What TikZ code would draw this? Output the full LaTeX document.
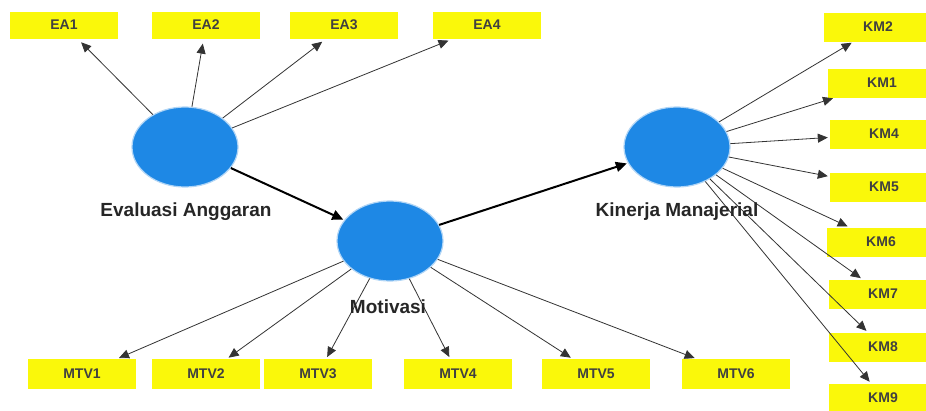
\documentclass[tikz,border=0pt]{standalone}
\usepackage{fontspec}
\setmainfont{Liberation Sans}
\usetikzlibrary{shapes.geometric,arrows.meta}
\definecolor{lvblue}{RGB}{30,136,229}
\definecolor{mvyellow}{RGB}{250,248,10}
\tikzset{
  latent/.style={ellipse, fill=lvblue, draw=lvblue!35, line width=1.2pt, minimum width=106pt, minimum height=80pt},
  latlab/.style={font=\bfseries\fontsize{19}{21}\selectfont, text=black!85},
  indbox/.style={fill=mvyellow, minimum width=108pt, minimum height=27pt, inner sep=0pt, font=\bfseries\fontsize{14}{16}\selectfont, text=black!75},
  ind/.style={-{Triangle[length=10pt,width=9pt]}, black!80, line width=0.8pt, shorten >=2pt},
  path/.style={-{Triangle[length=11pt,width=10pt]}, black, line width=2pt, shorten >=1pt}
}
\begin{document}
\begin{tikzpicture}[x=1pt,y=-1pt]
  \clip (0,0) rectangle (926,410);
  \fill[white] (0,0) rectangle (926,410);

  % latent variables
  \node[latent] (eval) at (185,147) {};
  \node[latent] (motiv) at (390,241) {};
  \node[latent] (kinerja) at (677,147) {};

  % indicators of Evaluasi Anggaran
  \node[indbox] (ea1) at (64,25) {EA1};
  \node[indbox] (ea2) at (206,25) {EA2};
  \node[indbox] (ea3) at (344,25) {EA3};
  \node[indbox] (ea4) at (487,25) {EA4};

  % indicators of Motivasi
  \node[indbox, minimum height=30pt] (mtv1) at (82,374) {MTV1};
  \node[indbox, minimum height=30pt] (mtv2) at (206,374) {MTV2};
  \node[indbox, minimum height=30pt] (mtv3) at (318,374) {MTV3};
  \node[indbox, minimum height=30pt] (mtv4) at (458,374) {MTV4};
  \node[indbox, minimum height=30pt] (mtv5) at (596,374) {MTV5};
  \node[indbox, minimum height=30pt] (mtv6) at (736,374) {MTV6};

  % indicators of Kinerja Manajerial
  \node[indbox, minimum height=29pt] (km2) at (878,27) {KM2};
  \node[indbox, minimum height=29pt] (km1) at (882,83) {KM1};
  \node[indbox, minimum height=29pt] (km4) at (884,134) {KM4};
  \node[indbox, minimum height=29pt] (km5) at (884,187) {KM5};
  \node[indbox, minimum height=29pt] (km6) at (881,242) {KM6};
  \node[indbox, minimum height=29pt] (km7) at (883,294) {KM7};
  \node[indbox, minimum height=29pt] (km8) at (883,347) {KM8};
  \node[indbox, minimum height=29pt] (km9) at (883,398) {KM9};

  % outer loadings
  \draw[ind, shorten >=5pt] (eval) -- (ea1);
  \draw[ind, shorten >=5pt] (eval) -- (ea2);
  \draw[ind, shorten >=5pt] (eval) -- (ea3);
  \draw[ind, shorten >=5pt] (eval) -- (ea4);
  \draw[ind] (motiv) -- (mtv1);
  \draw[ind] (motiv) -- (mtv2);
  \draw[ind] (motiv) -- (mtv3);
  \draw[ind] (motiv) -- (mtv4);
  \draw[ind] (motiv) -- (mtv5);
  \draw[ind] (motiv) -- (mtv6);
  \draw[ind] (kinerja) -- (km2);
  \draw[ind] (kinerja) -- (km1);
  \draw[ind] (kinerja) -- (km4);
  \draw[ind] (kinerja) -- (km5);
  \draw[ind] (kinerja) -- (km6);
  \draw[ind] (kinerja) -- (km7);
  \draw[ind] (kinerja) -- (km8);
  \draw[ind] (kinerja) -- (km9);

  % inner model
  \draw[path] (eval) -- (motiv);
  \draw[path] (motiv) -- (kinerja);

  % labels of latent variables
  \node[latlab] (evallab) at (186,212) {Evaluasi Anggaran};
  \node[latlab] (motivlab) at (388,307) {Motivasi};
  \node[latlab] (kinerjalab) at (677,212) {Kinerja Manajerial};
\end{tikzpicture}
\end{document}
